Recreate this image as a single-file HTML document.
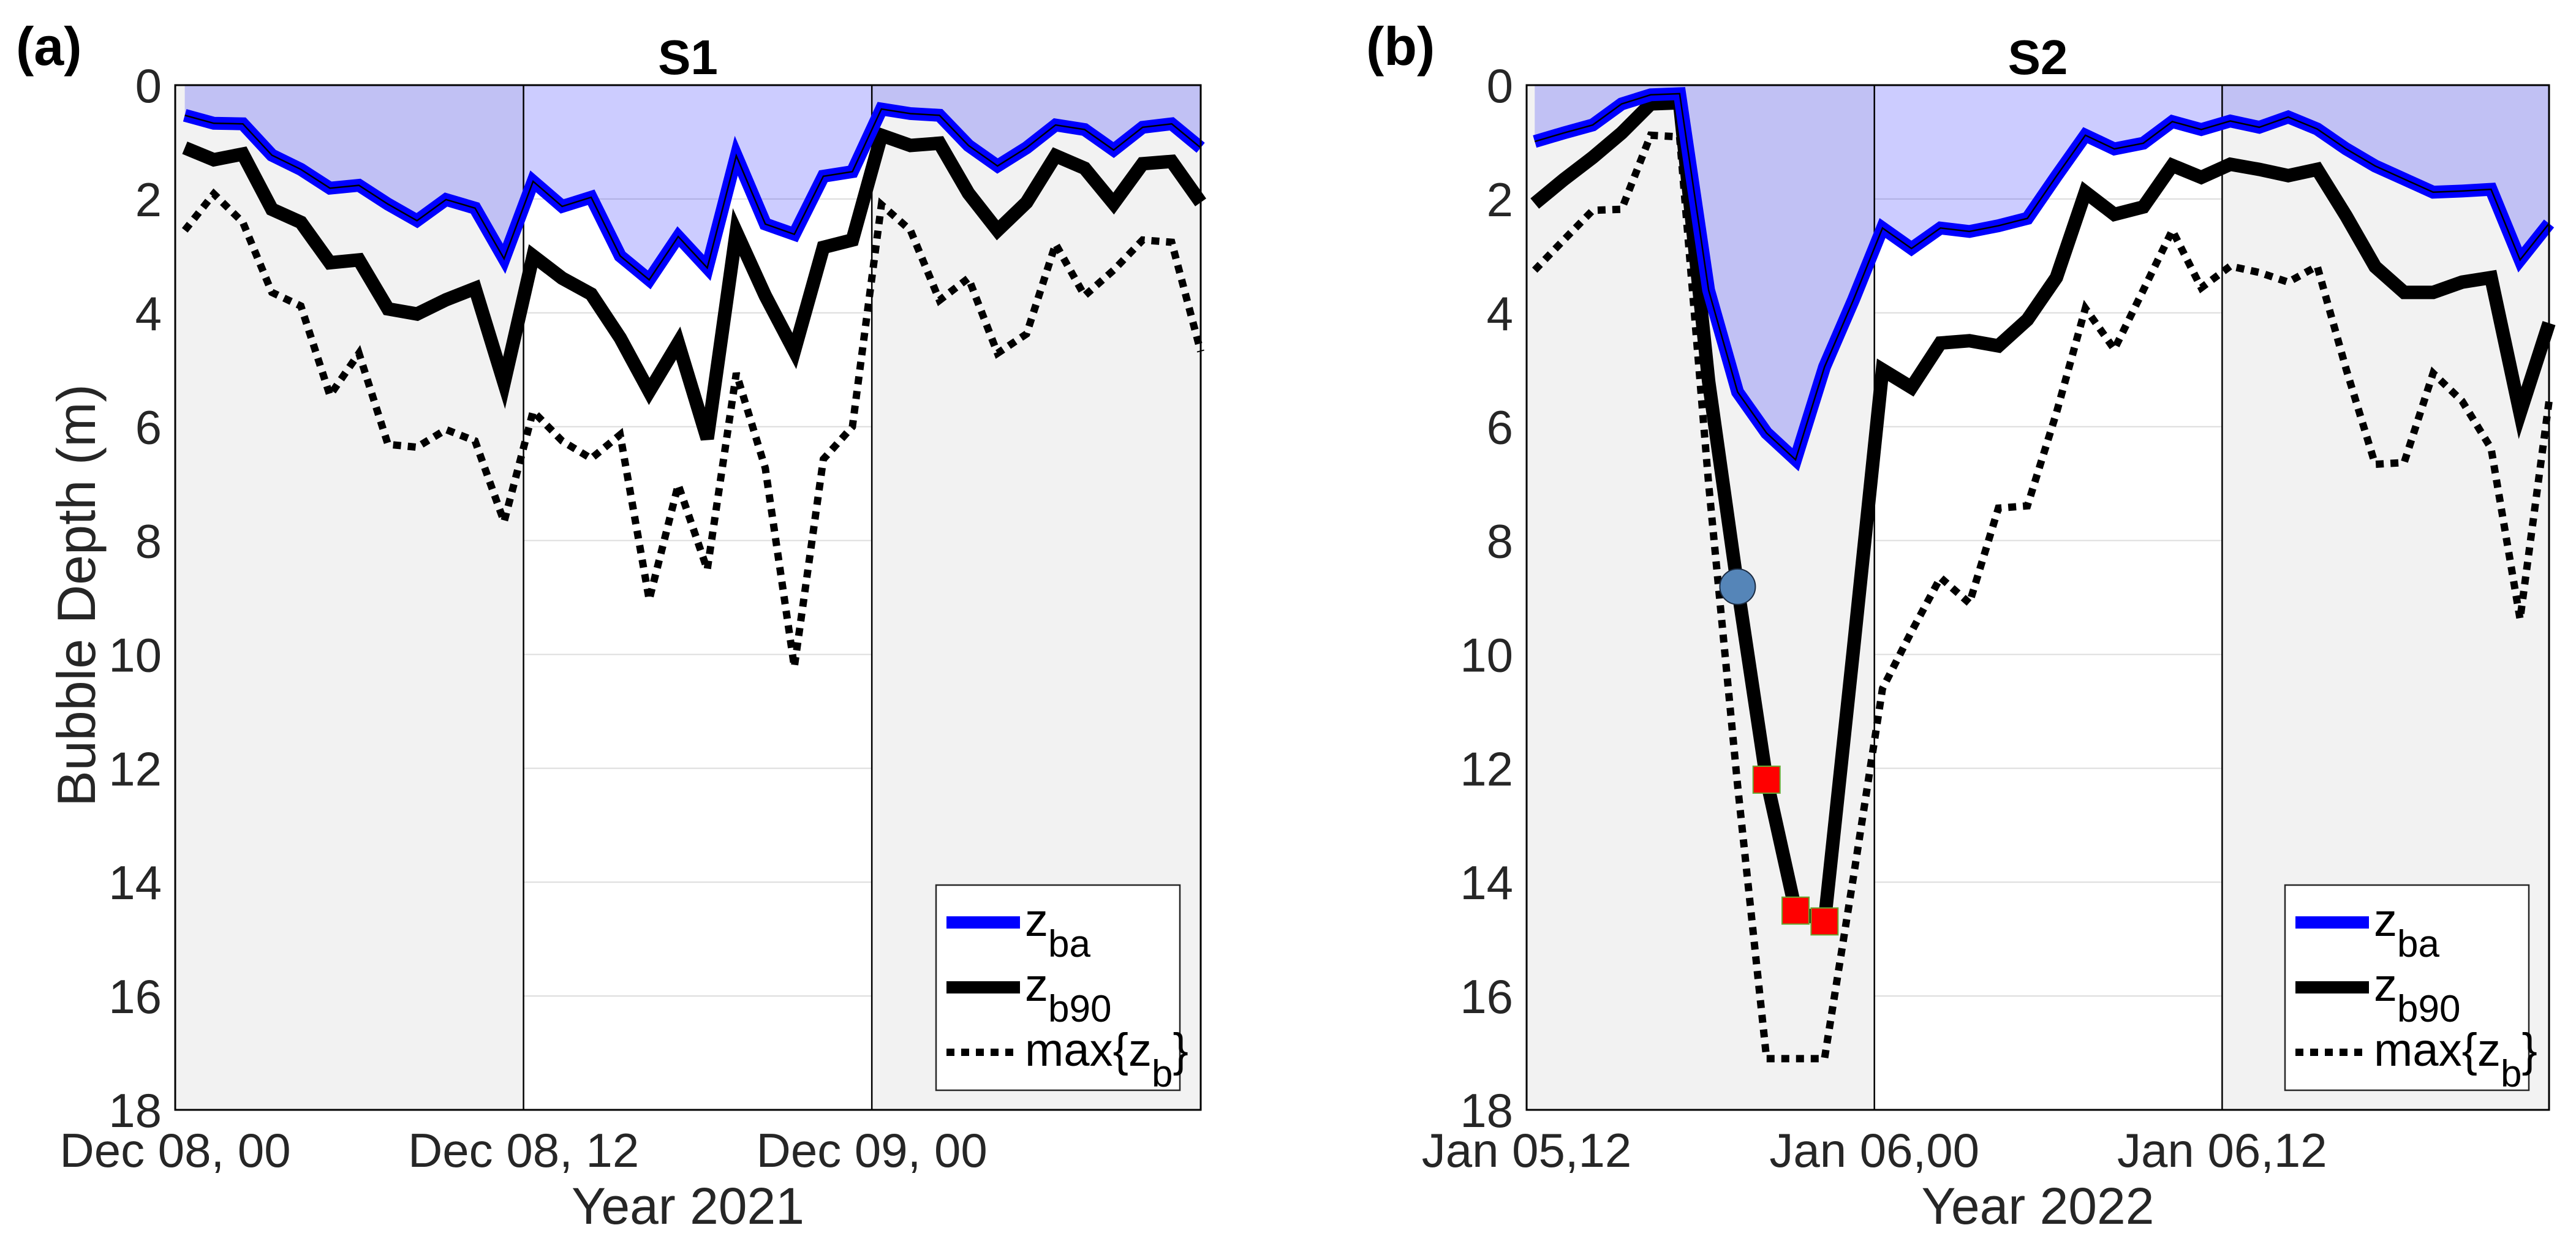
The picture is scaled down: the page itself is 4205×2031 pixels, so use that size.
<!DOCTYPE html>
<html><head><meta charset="utf-8"><style>
html,body{margin:0;padding:0;background:#fff;}
svg{display:block;font-family:"Liberation Sans",Arial,sans-serif;}
</style></head><body>
<svg id="fig" width="4205" height="2031" viewBox="0 0 4205 2031" xmlns="http://www.w3.org/2000/svg"></svg>
<script>
// ---------- data ----------
const hoursA = Array.from({length:36},(_,i)=>i+0.33);
const zbaA = [0.53,0.67,0.68,1.23,1.48,1.81,1.76,2.09,2.38,2.01,2.16,3.05,1.69,2.13,1.97,3.0,3.42,2.66,3.21,1.24,2.44,2.62,1.6,1.52,0.42,0.5,0.53,1.06,1.42,1.1,0.7,0.78,1.14,0.74,0.68,1.1];
const zb90A = [1.1,1.31,1.21,2.18,2.41,3.12,3.07,3.93,4.02,3.77,3.57,5.23,3.0,3.39,3.67,4.44,5.38,4.53,6.21,2.58,3.7,4.67,2.85,2.72,0.88,1.06,1.02,1.9,2.55,2.06,1.24,1.46,2.08,1.38,1.34,2.06];
const zmaxA = [2.55,1.91,2.41,3.64,3.88,5.45,4.71,6.31,6.36,6.05,6.25,7.67,5.73,6.25,6.56,6.14,9.04,7.02,8.51,5.06,6.73,10.22,6.57,6.0,2.1,2.55,3.78,3.39,4.71,4.37,2.79,3.7,3.25,2.72,2.76,4.68];
const hoursB = Array.from({length:36},(_,i)=>i+0.28);
const zbaB = [0.99,0.84,0.7,0.33,0.17,0.15,3.6,5.39,6.11,6.58,4.95,3.77,2.51,2.87,2.51,2.57,2.47,2.34,1.6,0.88,1.12,1.02,0.64,0.78,0.63,0.74,0.56,0.77,1.12,1.42,1.65,1.88,1.86,1.83,3.07,2.43];
const zb90B = [2.08,1.66,1.27,0.84,0.33,0.31,5.2,8.81,12.2,14.5,14.69,9.9,5.0,5.31,4.53,4.49,4.58,4.12,3.38,1.88,2.27,2.14,1.41,1.62,1.39,1.48,1.59,1.48,2.3,3.19,3.64,3.64,3.46,3.38,5.76,4.18];
const zmaxB = [3.25,2.72,2.2,2.18,0.88,0.91,7.0,12.3,17.1,17.1,17.1,13.9,10.6,9.6,8.65,9.1,7.43,7.39,5.76,3.92,4.64,3.6,2.55,3.56,3.18,3.29,3.46,3.18,4.99,6.66,6.63,5.06,5.55,6.38,9.38,5.55];
const circleIdxB = [7];
const squareIdxB = [8,9,10];
const yTicks = [0,2,4,6,8,10,12,14,16,18];
const xTicksA = ["Dec 08, 00","Dec 08, 12","Dec 09, 00"];
const xTicksB = ["Jan 05,12","Jan 06,00","Jan 06,12"];
const xTickHours = [0,12,24];

const NS="http://www.w3.org/2000/svg";
const svg=document.getElementById('fig');
function mk(tag,attrs,parent,text){const e=document.createElementNS(NS,tag);for(const k in attrs)e.setAttribute(k,attrs[k]);if(text!==undefined)e.textContent=text;(parent||svg).appendChild(e);return e;}

function panel(o){
  const g=mk('g',{});
  
  
  const L=o.left,R=o.right,T=139,B=1812;
  const xmax=o.hours[o.hours.length-1];
  const X=h=>L+(h/xmax)*(R-L);
  const Y=v=>T+(v/18)*(B-T);
  const bg=mk('rect',{x:L,y:T,width:R-L,height:B-T,fill:'#fff'},g);
  
  
  yTicks.forEach(v=>{const l=mk('line',{x1:L,x2:R,y1:Y(v),y2:Y(v),stroke:'#dcdcdc','stroke-width':2},g);
    
    });
  const g1=mk('rect',{x:L,y:T,width:X(12)-L,height:B-T,fill:'#f2f2f2'},g);
  
  
  const g2=mk('rect',{x:X(24),y:T,width:R-X(24),height:B-T,fill:'#f2f2f2'},g);
  
  
  let d='M'+X(o.hours[0])+','+T;
  o.hours.forEach((h,i)=>{d+=' L'+X(h)+','+Y(o.zba[i]);});
  d+=' L'+X(xmax)+','+T+' Z';
  const f=mk('path',{d:d,fill:'rgba(0,0,255,0.2)'},g);
  
  
  [12,24].forEach(h=>{const l=mk('line',{x1:X(h),x2:X(h),y1:T,y2:B,stroke:'#000','stroke-width':2.5},g);
    
    });
  const pts=arr=>o.hours.map((h,i)=>X(h)+','+Y(arr[i])).join(' ');
  const pm=mk('polyline',{points:pts(o.zmax),fill:'none',stroke:'#000','stroke-width':12,'stroke-dasharray':'13 11'},g);
  
  
  const p90=mk('polyline',{points:pts(o.zb90),fill:'none',stroke:'#000','stroke-width':22,'stroke-linejoin':'miter'},g);
  
  
  const pba=mk('polyline',{points:pts(o.zba),fill:'none',stroke:'#0000ff','stroke-width':21},g);
  
  
  const pbc=mk('polyline',{points:pts(o.zba),fill:'none',stroke:'#000','stroke-width':2.5},g);
  
  
  (o.circles||[]).forEach(i=>{const c=mk('circle',{cx:X(o.hours[i]),cy:Y(o.zb90[i]),r:29,fill:'#5585b8',stroke:'#1a2a40','stroke-width':2},g);
    
    });
  (o.squares||[]).forEach(i=>{const s=mk('rect',{x:X(o.hours[i])-22,y:Y(o.zb90[i])-22,width:44,height:44,fill:'#ff0000',stroke:'#66aa33','stroke-width':2},g);
    
    });
  const fr=mk('rect',{x:L,y:T,width:R-L,height:B-T,fill:'none',stroke:'#000','stroke-width':3},g);
  
  
  yTicks.forEach(v=>{const t=mk('text',{x:L-22,y:Y(v)+28,'text-anchor':'end','font-size':78,fill:'#262626'},g,String(v));
    
    });
  o.xticks.forEach((s,i)=>{const t=mk('text',{x:X(xTickHours[i]),y:1905,'text-anchor':'middle','font-size':78,fill:'#262626'},g,s);
    
    });
  const cx=(L+R)/2;
  const xt=mk('text',{x:cx,y:1998,'text-anchor':'middle','font-size':84,fill:'#262626'},g,o.year);
  
  
  const tt=mk('text',{x:cx,y:121,'text-anchor':'middle','font-size':80,'font-weight':'bold',fill:'#000'},g,o.title);
  
  
  const pl=mk('text',{x:o.labelX,y:106,'font-size':88,'font-weight':'bold',fill:'#000'},g,o.label);
  
  
  const lg=mk('g',{},g);
  
  
  const lx=o.legX, ly=1445;
  mk('rect',{x:lx,y:ly,width:398,height:335,fill:'#fff',stroke:'#262626','stroke-width':2.5},lg);
  const rows=[{y:1506,st:'#0000ff',w:20,da:null,n:'legend-entry-zba',main:'z',sub:'ba'},
              {y:1612,st:'#000',w:20,da:null,n:'legend-entry-zb90',main:'z',sub:'b90'},
              {y:1718,st:'#000',w:12,da:'13 11',n:'legend-entry-max-zb',main:'max{z',sub:'b',tail:'}'}];
  rows.forEach(r=>{
    const eg=mk('g',{},lg);
    
    
    const a={x1:lx+17,x2:lx+137,y1:r.y,y2:r.y,stroke:r.st,'stroke-width':r.w};
    if(r.da)a['stroke-dasharray']=r.da;
    mk('line',a,eg);
    const t=mk('text',{x:lx+145,y:r.y+22,'font-size':76,fill:'#000'},eg);
    mk('tspan',{},t,r.main);
    mk('tspan',{dy:34,'font-size':62},t,r.sub);
    if(r.tail)mk('tspan',{dy:-34,'font-size':76},t,r.tail);
  });
}
panel({name:'panel-a-s1',left:286,right:1960,hours:hoursA,zba:zbaA,zb90:zb90A,zmax:zmaxA,xticks:xTicksA,year:'Year 2021',title:'S1',label:'(a)',labelX:26,legX:1528});
panel({name:'panel-b-s2',left:2492,right:4161,hours:hoursB,zba:zbaB,zb90:zb90B,zmax:zmaxB,xticks:xTicksB,year:'Year 2022',title:'S2',label:'(b)',labelX:2230,legX:3730,circles:circleIdxB,squares:squareIdxB});
const yl=mk('text',{x:0,y:0,transform:'translate(155,972) rotate(-90)','text-anchor':'middle','font-size':88,fill:'#262626'},svg,'Bubble Depth (m)');


</script>
</body></html>
